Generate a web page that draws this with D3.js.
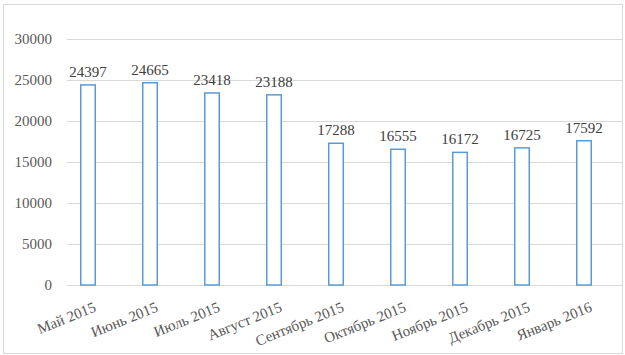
<!DOCTYPE html>
<html>
<head>
<meta charset="utf-8">
<script src="https://cdn.jsdelivr.net/npm/d3@7"></script>
<style>
  body { margin: 0; background: #fff; }
  svg text { font-family: "Liberation Serif", "Times New Roman", serif; }
</style>
</head>
<body>
<div id="chart"></div>
<script>
// months and counts
var months = ["Май 2015", "Июнь 2015", "Июль 2015", "Август 2015", "Сентябрь 2015",
              "Октябрь 2015", "Ноябрь 2015", "Декабрь 2015", "Январь 2016"];
var counts = [24397, 24665, 23418, 23188, 17288, 16555, 16172, 16725, 17592];
var yTicks = [0, 5000, 10000, 15000, 20000, 25000, 30000];

var W = 625, H = 355;

var svg = d3.select("#chart")
            .append("svg")
            .attr("width", W)
            .attr("height", H);

// outer frame
svg.append("rect")
   .attr("x", 3.5).attr("y", 4.5)
   .attr("width", 619).attr("height", 349)
   .attr("fill", "#fff")
   .attr("stroke", "#d9d9d9");

var x = d3.scaleBand()
          .domain(months)
          .range([57, 615])
          .paddingInner(0.766)
          .paddingOuter(0.383);

var y = d3.scaleLinear()
          .domain([0, 30000])
          .range([285, 39]);

// gridlines
svg.append("g")
   .selectAll("line")
   .data(yTicks)
   .enter()
   .append("line")
   .attr("x1", 67).attr("x2", 622)
   .attr("y1", function (d) { return Math.round(y(d)) + 0.5; })
   .attr("y2", function (d) { return Math.round(y(d)) + 0.5; })
   .attr("stroke", "#d9d9d9")
   .attr("stroke-width", 1);

// y labels
svg.append("g")
   .selectAll("text")
   .data(yTicks)
   .enter()
   .append("text")
   .attr("x", 52)
   .attr("y", function (d) { return y(d); })
   .attr("dy", "0.35em")
   .attr("text-anchor", "end")
   .attr("font-size", 15)
   .attr("fill", "#595959")
   .text(function (d) { return d; });

var rows = months.map(function (m, i) { return {month: m, value: counts[i]}; });

// bars
svg.append("g")
   .selectAll("rect")
   .data(rows)
   .enter()
   .append("rect")
   .attr("x", function (d) { return x(d.month); })
   .attr("y", function (d) { return y(d.value); })
   .attr("width", x.bandwidth())
   .attr("height", function (d) { return y(0) - y(d.value); })
   .attr("fill", "#fff")
   .attr("stroke", "#5b9bd5")
   .attr("stroke-width", 1.5);

// value labels
svg.append("g")
   .selectAll("text")
   .data(rows)
   .enter()
   .append("text")
   .attr("x", function (d) { return x(d.month) + x.bandwidth() / 2; })
   .attr("y", function (d) { return y(d.value) - 8; })
   .attr("text-anchor", "middle")
   .attr("font-size", 15)
   .attr("fill", "#404040")
   .text(function (d) { return d.value; });

// rotated month labels
svg.append("g")
   .selectAll("text")
   .data(months)
   .enter()
   .append("text")
   .attr("transform", function (d) {
       return "translate(" + (x(d) + x.bandwidth() / 2 + 9) + ",311) rotate(-22)";
   })
   .attr("text-anchor", "end")
   .attr("font-size", 15)
   .attr("fill", "#595959")
   .text(function (d) { return d; });
</script>
</body>
</html>
